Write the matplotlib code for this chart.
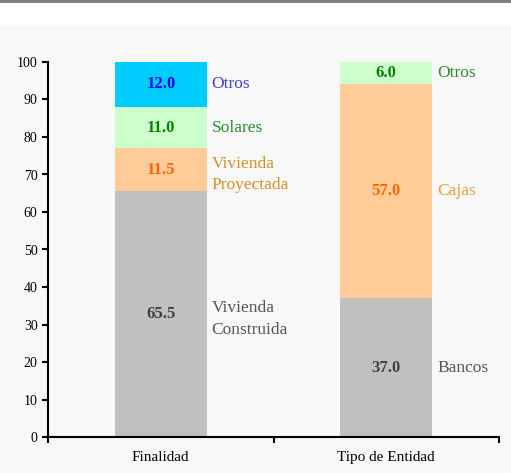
import numpy as np
import matplotlib
matplotlib.use("Agg")
import matplotlib.pyplot as plt
from matplotlib.patches import Rectangle

plt.rcParams["font.family"] = ["Liberation Serif", "DejaVu Serif"]

# ── data ────────────────────────────────────────────────────────────────────
categories = ["Finalidad", "Tipo de Entidad"]
fin_labels = ["Vivienda\nConstruida", "Vivienda\nProyectada", "Solares", "Otros"]
fin_values = [65.5, 11.5, 11.0, 12.0]
ent_labels = ["Bancos", "Cajas", "Otros"]
ent_values = [37.0, 57.0, 6.0]

fin_colors = ["#c0c0c0", "#ffcc99", "#ccffcc", "#00ccff"]
fin_val_colors = ["#404040", "#ff6600", "#008000", "#0000ff"]
fin_lab_colors = ["#555555", "#d4902a", "#2e8b2e", "#4040c8"]
ent_colors = ["#c0c0c0", "#ffcc99", "#ccffcc"]
ent_val_colors = ["#404040", "#ff6600", "#008000"]
ent_lab_colors = ["#555555", "#e0a040", "#2e8b2e"]

BG = "#f8f8f8"
W = 0.41

fig = plt.figure(figsize=(5.11, 4.73), dpi=100)
fig.patch.set_facecolor("white")
fig.add_artist(Rectangle((0, 0), 1, 1 - 25/473, transform=fig.transFigure,
                         facecolor=BG, edgecolor="none", zorder=0))
fig.add_artist(Rectangle((0, 1 - 3/473), 1, 3/473, transform=fig.transFigure,
                         facecolor="#808080", edgecolor="none", zorder=0))

ax = fig.add_axes([48/511, 1 - 437/473, 451/511, 375/473])
ax.set_facecolor(BG)


def stack(x, values, colors, vcolors, labels, lcolors):
    bottom = 0.0
    for v, c, vc, lab, lc in zip(values, colors, vcolors, labels, lcolors):
        ax.bar(x, v, W, bottom=bottom, color=c, edgecolor="none", zorder=2)
        mid = bottom + v / 2
        ax.text(x, mid, f"{v:.1f}", ha="center", va="center", color=vc,
                fontsize=12, fontweight="bold", zorder=3)
        # two-line labels sit a touch lower than the segment centre
        ly = mid - 1.3 * lab.count("\n")
        ax.text(x + W / 2 + 0.02, ly, lab, ha="left", va="center", color=lc,
                fontsize=12.5, linespacing=1.45, zorder=3)
        bottom += v


stack(0, fin_values, fin_colors, fin_val_colors, fin_labels, fin_lab_colors)
stack(1, ent_values, ent_colors, ent_val_colors, ent_labels, ent_lab_colors)

ax.set_xlim(-0.5, 1.5)
ax.set_ylim(0, 100)
ax.set_yticks(np.arange(0, 101, 10))
ax.set_xticks([0, 1])
ax.set_xticklabels(categories, fontsize=11)
ax.set_xticks([-0.5, 0.5, 1.5], minor=True)
ax.tick_params(axis="x", which="major", length=0, pad=10)
ax.tick_params(axis="x", which="minor", length=4, width=1.5, direction="out")
ax.tick_params(axis="y", length=4, width=1.5, direction="out", labelsize=10)
for s in ["top", "right"]:
    ax.spines[s].set_visible(False)
for s in ["left", "bottom"]:
    ax.spines[s].set_linewidth(1.5)

fig.savefig("out.png", dpi=100, facecolor=fig.get_facecolor())
